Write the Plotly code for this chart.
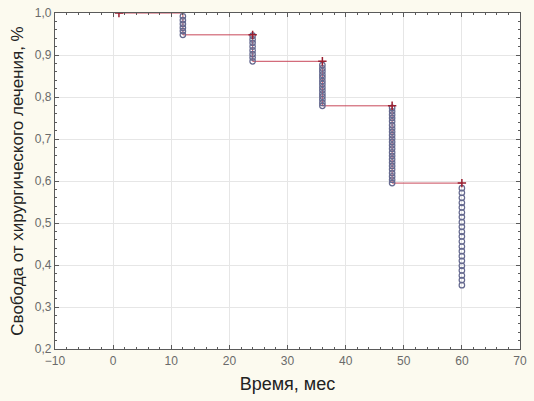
import plotly.graph_objects as go

# ── Data: Kaplan-Meier step curve ────────────────────────────────────────────
step_time = [1, 12, 12, 24, 24, 36, 36, 48, 48, 60]
step_surv = [1.0, 1.0, 0.948, 0.948, 0.885, 0.885, 0.779, 0.779, 0.595, 0.595]

# censored ("+") points
cens_time = [1, 24, 36, 48, 60]
cens_surv = [1.0, 0.948, 0.885, 0.779, 0.595]

# complete events (circles), per time point
ev_12 = [0.992, 0.983, 0.974, 0.965, 0.957, 0.948]
ev_24 = [0.946, 0.937, 0.929, 0.920, 0.911, 0.902, 0.894, 0.885]
ev_36 = [0.876, 0.868, 0.861, 0.853, 0.846, 0.838, 0.831, 0.823, 0.816,
         0.808, 0.801, 0.794, 0.786, 0.779]
ev_48 = [0.774, 0.766, 0.758, 0.750, 0.742, 0.733, 0.725, 0.717, 0.709,
         0.701, 0.693, 0.685, 0.677, 0.668, 0.660, 0.652, 0.644, 0.636,
         0.628, 0.619, 0.611, 0.603, 0.595]
ev_60 = [0.583, 0.572, 0.560, 0.548, 0.537, 0.525, 0.514, 0.502, 0.491,
         0.479, 0.468, 0.456, 0.444, 0.433, 0.421, 0.410, 0.398, 0.387,
         0.375, 0.364, 0.352]

events = {12: ev_12, 24: ev_24, 36: ev_36, 48: ev_48, 60: ev_60}
ev_x, ev_y = [], []
for t, ys in events.items():
    ev_x += [t] * len(ys)
    ev_y += ys

LINE_RED = "#c8485a"
CIRCLE = "#65698f"
AXIS = "#5a5a5a"
TICK_TXT = "#6a6a6a"
PAPER = "#fcfaef"
FONT = "Arial, Liberation Sans, sans-serif"

fig = go.Figure()
fig.add_trace(go.Scatter(
    x=step_time, y=step_surv, mode="lines",
    line=dict(color=LINE_RED, width=1), hoverinfo="none", showlegend=False,
))
fig.add_trace(go.Scatter(
    x=ev_x, y=ev_y, mode="markers",
    marker=dict(symbol="circle-open", size=5.5, color=CIRCLE, line=dict(width=1.2, color=CIRCLE)),
    showlegend=False,
))
fig.add_trace(go.Scatter(
    x=cens_time, y=cens_surv, mode="markers",
    marker=dict(symbol="cross-thin-open", size=6, color="#9a1f30", line=dict(width=1.5, color="#9a1f30")),
    showlegend=False,
))

axis_common = dict(
    showline=True, linecolor=AXIS, linewidth=1.2, mirror="ticks",
    ticks="inside", ticklen=4, tickcolor=AXIS,
    showgrid=True, gridcolor="#e6e6e6", gridwidth=1, zeroline=False,
    automargin=False,
    tickfont=dict(family=FONT, size=12, color=TICK_TXT),
)

fig.update_layout(
    width=534, height=401,
    paper_bgcolor=PAPER, plot_bgcolor="white",
    margin=dict(l=55, r=14, t=13, b=52),
    separators=", ",
    xaxis=dict(
        range=[-10, 70], dtick=10, tick0=-10,
        minor=dict(ticks="inside", ticklen=2, dtick=2, tickcolor=AXIS, showgrid=False),
        title=dict(text="Время, мес", standoff=10,
                   font=dict(family=FONT, size=18, color="#222")),
        **axis_common,
    ),
    yaxis=dict(
        range=[0.2, 1.0], dtick=0.1, tick0=0.2, tickformat=".1f",
        minor=dict(ticks="inside", ticklen=2, dtick=0.02, tickcolor=AXIS, showgrid=False),
        title=dict(text="Свобода от хирургического лечения, %", standoff=6,
                   font=dict(family=FONT, size=17, color="#222")),
        **axis_common,
    ),
)

# drop the default page margin so the figure sits at the window's corner
fig.write_html(
    "out.html",
    config={"displayModeBar": False},
    post_script=f"document.body.style.margin='0';document.body.style.background='{PAPER}';",
)
